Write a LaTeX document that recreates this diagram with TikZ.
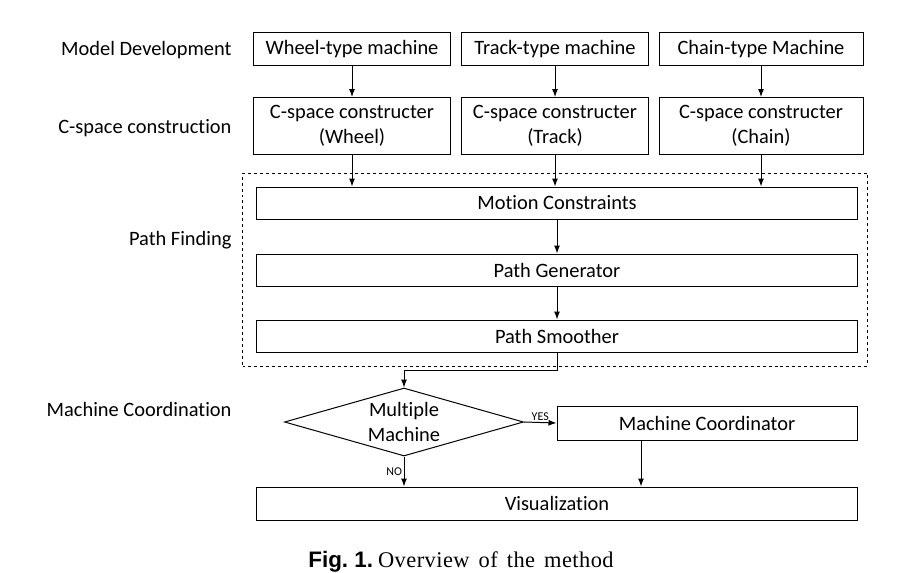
\documentclass[tikz,border=0pt]{standalone}
\usepackage{fontspec}
\setmainfont{Carlito}[Ligatures=NoCommon]
\newfontfamily\capsans{Liberation Sans}
\newfontfamily\capserif{Liberation Serif}
\usetikzlibrary{arrows.meta,shapes.geometric,positioning}

\begin{document}
\begin{tikzpicture}[>={Latex[length=8bp,width=6bp]},font=\fontsize{20.5}{25}\selectfont,
	box/.style={draw,line width=1bp,align=center,inner sep=0pt},
	stage/.style={anchor=east,inner sep=0pt},
	small/.style={font=\fontsize{12}{13}\selectfont,inner sep=1.5bp},
	every path/.style={line width=1bp}]
	\useasboundingbox (0bp,0bp) rectangle (912bp,-573bp);

	\node[stage] (MD)  at (232bp,-50bp)  {Model Development};
	\node[stage] (CSC) at (232bp,-128bp) {C-space construction};
	\node[stage] (PFL) at (232bp,-240bp) {Path Finding};
	\node[stage] (MCL) at (232bp,-409bp) {Machine Coordination};

	\node[box,minimum width=197bp,minimum height=33bp] (WM) at (352bp,-49bp)  {Wheel-type machine};
	\node[box,minimum width=187bp,minimum height=33bp] (TM) at (555bp,-49bp)  {Track-type machine};
	\node[box,minimum width=204bp,minimum height=33bp] (CM) at (761bp,-49bp)  {Chain-type Machine};

	\node[box,minimum width=197bp,minimum height=57bp] (WC) at (352bp,-126bp) {C-space constructer\\(Wheel)};
	\node[box,minimum width=187bp,minimum height=57bp] (TC) at (555bp,-126bp) {C-space constructer\\(Track)};
	\node[box,minimum width=204bp,minimum height=57bp] (CC) at (761bp,-126bp) {C-space constructer\\(Chain)};

	\node[draw,dashed,minimum width=625bp,minimum height=193bp] (PF) at (555bp,-269.5bp) {};
	\node[box,minimum width=601bp,minimum height=32bp] (MOC) at (557bp,-203bp) {Motion Constraints};
	\node[box,minimum width=601bp,minimum height=32bp] (PG)  at (557bp,-270bp) {Path Generator};
	\node[box,minimum width=601bp,minimum height=32bp] (PS)  at (557bp,-336bp) {Path Smoother};

	\node[draw,diamond,aspect=3.5,align=center,inner sep=0pt,minimum width=239bp,minimum height=68bp] (MM) at (404bp,-422bp) {Multiple\\Machine};
	\node[box,minimum width=300bp,minimum height=34bp] (MCO) at (707bp,-423bp) {Machine Coordinator};
	\node[box,minimum width=601bp,minimum height=33bp] (VIS) at (557bp,-503.5bp) {Visualization};

	\node[anchor=base,inner sep=0pt] (CAP) at (461bp,-567bp) {\fontsize{22.5}{26}\selectfont{\capsans\bfseries Fig.\ 1.}\hspace{5bp}{\capserif\addfontfeatures{LetterSpace=2}Overview\hspace{3bp} of\hspace{3bp} the\hspace{3bp} method}};

	\draw [->] (WM) to (WC);
	\draw [->] (TM) to (TC);
	\draw [->] (CM) to (CC);
	\draw [->] (WC.south) to (WC.south |- MOC.north);
	\draw [->] (TC.south) to (TC.south |- MOC.north);
	\draw [->] (CC.south) to (CC.south |- MOC.north);
	\draw [->] (MOC) to (PG);
	\draw [->] (PG) to (PS);
	\draw [->] (PS.south) -- ++(0bp,-18bp) -| (MM.north);
	\draw [->] (MM.east) to node[small,above] {YES} (MCO.west);
	\draw [->] (MM.south) to node[small,left] {NO} (MM.south |- VIS.north);
	\draw [->] (MCO.south -| 641bp,0bp) to (VIS.north -| 641bp,0bp);
\end{tikzpicture}
\end{document}
